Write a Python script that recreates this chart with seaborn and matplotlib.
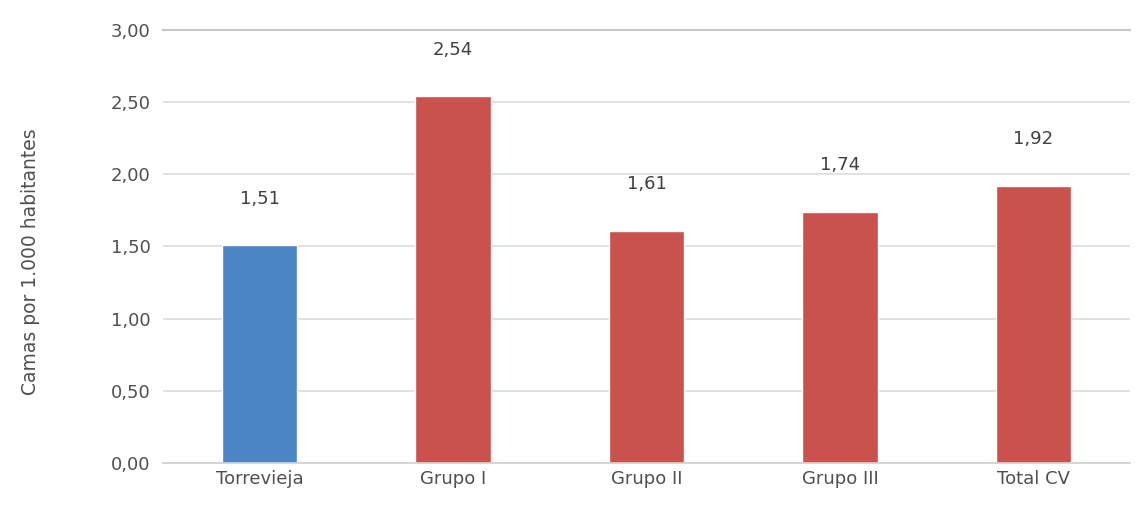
import matplotlib
matplotlib.use("Agg")
import matplotlib.pyplot as plt
import seaborn as sns
import pandas as pd

categories = ["Torrevieja", "Grupo I", "Grupo II", "Grupo III", "Total CV"]
values = [1.51, 2.54, 1.61, 1.74, 1.92]
colors = ["#4a86c6", "#c9524c", "#c9524c", "#c9524c", "#c9524c"]
yticks = [0.0, 0.5, 1.0, 1.5, 2.0, 2.5, 3.0]

sns.set_theme(style="white")
plt.rcParams["font.family"] = ["DejaVu Sans"]

df = pd.DataFrame({"cat": categories, "val": values})

fig = plt.figure(figsize=(11.35, 5.13), dpi=100)
ax = fig.add_axes([0.1436, 0.0975, 0.852, 0.844])
sns.barplot(data=df, x="cat", y="val", hue="cat", palette=colors, legend=False,
            width=0.39, ax=ax, saturation=1)

ax.set_ylim(0, 3.0)
ax.set_xlim(-0.5, 4.5)
ax.set_yticks(yticks)
ax.set_yticklabels([f"{t:.2f}".replace(".", ",") for t in yticks])
ax.yaxis.grid(True, color="#dcdcdc", linewidth=1.2)
ax.set_axisbelow(True)
for s in ["left", "right"]:
    ax.spines[s].set_visible(False)
ax.spines["top"].set_color("#c8c8c8")
ax.spines["top"].set_linewidth(1.5)
ax.spines["bottom"].set_color("#d0d0d0")
ax.spines["bottom"].set_linewidth(1.2)

ax.tick_params(axis="y", length=0, labelsize=13, colors="#505050", pad=9)
ax.tick_params(axis="x", length=0, labelsize=13, colors="#505050", pad=5)
ax.set_xlabel("")
ax.set_ylabel("Camas por 1.000 habitantes", fontsize=13.5, color="#505050")
ax.yaxis.set_label_coords(-0.127, 0.464)

for i, v in enumerate(values):
    ax.annotate(f"{v:.2f}".replace(".", ","), (i, v), xytext=(0, 27),
                textcoords="offset points", ha="center", va="bottom",
                fontsize=13, color="#404040")

fig.savefig("out.png", dpi=100, facecolor="white")
